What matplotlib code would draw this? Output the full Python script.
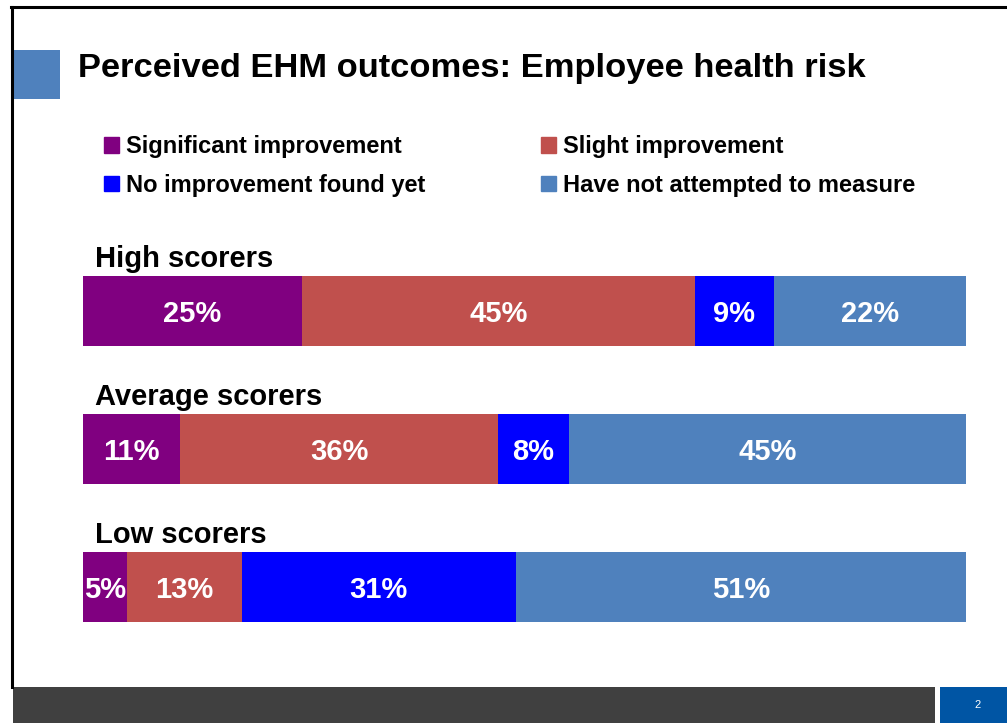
import numpy as np
import matplotlib.pyplot as plt
from matplotlib.patches import Rectangle, Patch
from matplotlib.lines import Line2D

plt.rcParams['font.family'] = ['Liberation Sans', 'DejaVu Sans']

# Data
groups = ['High scorers', 'Average scorers', 'Low scorers']
categories = ['Significant improvement', 'Slight improvement',
              'No improvement found yet', 'Have not attempted to measure']
values = {
    'Significant improvement': [25, 11, 5],
    'Slight improvement': [45, 36, 13],
    'No improvement found yet': [9, 8, 31],
    'Have not attempted to measure': [22, 45, 51],
}
colors = ['#800080', '#C0504D', '#0000FF', '#4F81BD']

W, H = 1007, 723
fig = plt.figure(figsize=(W / 100, H / 100), dpi=100)


def fx(px):
    return px / W


def fy(py):
    return 1 - py / H


# slide frame
fig.add_artist(Line2D([fx(12), fx(12)], [fy(7), fy(687)], color='black', lw=2.2))
fig.add_artist(Line2D([fx(11), fx(1007)], [fy(7), fy(7)], color='black', lw=2.2))

# title block
fig.add_artist(Rectangle((fx(12), fy(99)), fx(48), 49 / H, color='#4F81BD', lw=0))
fig.text(fx(78), fy(77), 'Perceived EHM outcomes: Employee health risk',
         fontsize=24.8, fontweight='bold', va='baseline', ha='left')

# footer
fig.add_artist(Rectangle((fx(13), 0), fx(922), 36 / H, color='#404040', lw=0))
fig.add_artist(Rectangle((fx(940), 0), fx(67), 36 / H, color='#0055A4', lw=0))
fig.text(fx(978), fy(705), '2', color='white', fontsize=8, ha='center', va='center')

# bars
ax = fig.add_axes([fx(83), fy(622), fx(883), 346 / H])
data = np.array([values[c] for c in categories], dtype=float)
totals = data.sum(axis=0)
share = data / totals
y = np.arange(len(groups))
bh = 70 / 138
left = np.zeros(len(groups))
for i, cat in enumerate(categories):
    ax.barh(y, share[i], left=left, height=bh, color=colors[i], label=cat)
    for j in range(len(groups)):
        ax.annotate(f'{int(data[i][j])}%', (left[j] + share[i][j] / 2, y[j]),
                    xytext=(0, -10.5), textcoords='offset pixels',
                    color='white', fontsize=21, fontweight='bold',
                    ha='center', va='baseline')
    left += share[i]

for j, g in enumerate(groups):
    ax.annotate(g, (0, y[j] - bh / 2), xytext=(12, 9), textcoords='offset pixels',
                fontsize=21, fontweight='bold', va='baseline', ha='left',
                annotation_clip=False)

ax.set_xlim(0, 1)
ax.set_ylim(2 + bh / 2, -bh / 2)
ax.axis('off')

# legend, 2 x 2
handles = [Patch(color=c) for c in colors]
order = [0, 2, 1, 3]
fig.legend([handles[k] for k in order], [categories[k] for k in order],
           ncol=2, loc='upper left', bbox_to_anchor=(fx(104), fy(135)),
           frameon=False, handlelength=0.64, handleheight=0.64,
           handletextpad=0.3, columnspacing=4.87, labelspacing=0.67,
           borderpad=0, borderaxespad=0, prop={'weight': 'bold', 'size': 17})

fig.savefig('out.png', dpi=100)
